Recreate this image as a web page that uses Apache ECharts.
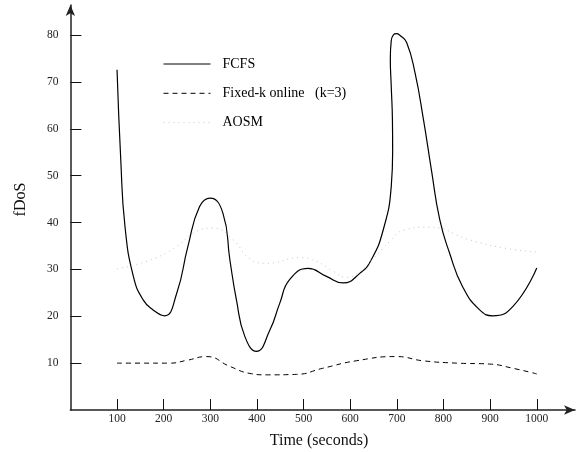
<!DOCTYPE html>
<html>
<head>
<meta charset="utf-8">
<script src="https://cdn.jsdelivr.net/npm/echarts@6/dist/echarts.min.js"></script>
<style>html,body{margin:0;padding:0;background:#fff}#c{width:577px;height:452px}</style>
</head>
<body>
<div id="c"></div>
<script>
const seriesNames = ['FCFS', 'Fixed-k online   (k=3)', 'AOSM'];
const xTicks = [100, 200, 300, 400, 500, 600, 700, 800, 900, 1000];
const yTicks = [10, 20, 30, 40, 50, 60, 70, 80];
const fcfs = [[100,72.6],[108,53.4],[117,39.2],[135,28.5],[156,23.5],[178,21.3],[202,20.1],[228,24.9],[252,34.9],[277,43.4],[300,45.2],[327,42],[342,32],[356,23.5],[374,15.7],[399,12.5],[428,17.1],[449,22.8],[470,27.8],[510,30.2],[549,28.5],[585,27.1],[621,29.2],[645,32],[671,38.5],[688,47.7],[691,55],[690.5,62],[688,69],[686,75],[688,78.8],[693,80.1],[699,80.3],[707,79.9],[721,78.4],[739,71.9],[757,62],[774,51.3],[792,40.6],[813,33.5],[841,26.3],[877,21.4],[906,20.1],[949,22.1],[1000,30.3]];
const fixedK = [[100,10],[150,10],[213,10],[250,10.6],[292,11.4],[342,9.3],[385,7.8],[420,7.5],[485,7.6],[541,8.9],[613,10.5],[699,11.4],[756,10.5],[828,10],[899,9.8],[949,8.9],[1000,7.7]];
const aosm = [[100,30.1],[171,32],[228,34.9],[270,38.1],[306,38.8],[349,36.3],[385,32.2],[420,31.3],[492,32.5],[528,31.7],[563,29.6],[592,28.3],[620,29.5],[649,32.3],[685,36],[713,38.3],[770,39],[856,36.3],[928,34.6],[1000,33.7]];

const FONT = 'Liberation Serif';
const chart = echarts.init(document.getElementById('c'), null, {renderer: 'canvas'});
chart.setOption({
  animation: false,
  backgroundColor: '#fff',
  grid: {left: 70.4, top: 5, width: 504.6, height: 405, containLabel: false},
  legend: {
    orient: 'vertical', left: 163, top: 57, padding: 0,
    itemWidth: 47, itemHeight: 14, itemGap: 15.3,
    itemStyle: {opacity: 0},
    lineStyle: {width: 1},
    textStyle: {fontFamily: FONT, fontSize: 14, color: '#000', padding: [0,0,0,7]},
    data: seriesNames
  },
  xAxis: {
    type: 'value', min: 0, max: 1082,
    axisLine: {show: true, lineStyle: {color: '#222', width: 1.5}, symbol: ['none', 'arrow'], symbolSize: [7, 11]},
    axisTick: {show: true, inside: true, length: 11, lineStyle: {color: '#111', width: 1}, customValues: xTicks},
    axisLabel: {show: true, margin: 3, fontFamily: FONT, fontSize: 11.5, color: '#222', customValues: xTicks,
      formatter: function (v) { return String(v); }},
    splitLine: {show: false}
  },
  yAxis: {
    type: 'value', min: 0, max: 86.4,
    axisLine: {show: true, lineStyle: {color: '#222', width: 1.5}, symbol: ['none', 'arrow'], symbolSize: [7, 11]},
    axisTick: {show: true, inside: true, length: 11, lineStyle: {color: '#111', width: 1}, customValues: yTicks},
    axisLabel: {show: true, margin: 12, fontFamily: FONT, fontSize: 11.5, color: '#222', customValues: yTicks,
      formatter: function (v) { return String(v); }},
    splitLine: {show: false}
  },
  graphic: [
    {type: 'text', x: 21, y: 199.5, rotation: Math.PI / 2,
     style: {text: 'fDoS', fontFamily: FONT, fontSize: 16, fill: '#111', align: 'center', verticalAlign: 'middle'}},
    {type: 'text', x: 319, y: 441,
     style: {text: 'Time (seconds)', fontFamily: FONT, fontSize: 16, fill: '#111', align: 'center', verticalAlign: 'middle'}}
  ],
  series: [
    {name: seriesNames[0], type: 'line', data: fcfs, smooth: 0.5, showSymbol: false, symbol: 'none',
     lineStyle: {color: '#000', width: 1.2}, itemStyle: {color: '#000'}},
    {name: seriesNames[1], type: 'line', data: fixedK, smooth: 0.5, showSymbol: false, symbol: 'none',
     lineStyle: {color: '#000', width: 1, type: [5, 4]}, itemStyle: {color: '#000'}},
    {name: seriesNames[2], type: 'line', data: aosm, smooth: 0.5, showSymbol: false, symbol: 'none',
     lineStyle: {color: '#c8c8c8', width: 1, type: [1, 4]}, itemStyle: {color: '#c8c8c8'}}
  ]
});
</script>
</body>
</html>
